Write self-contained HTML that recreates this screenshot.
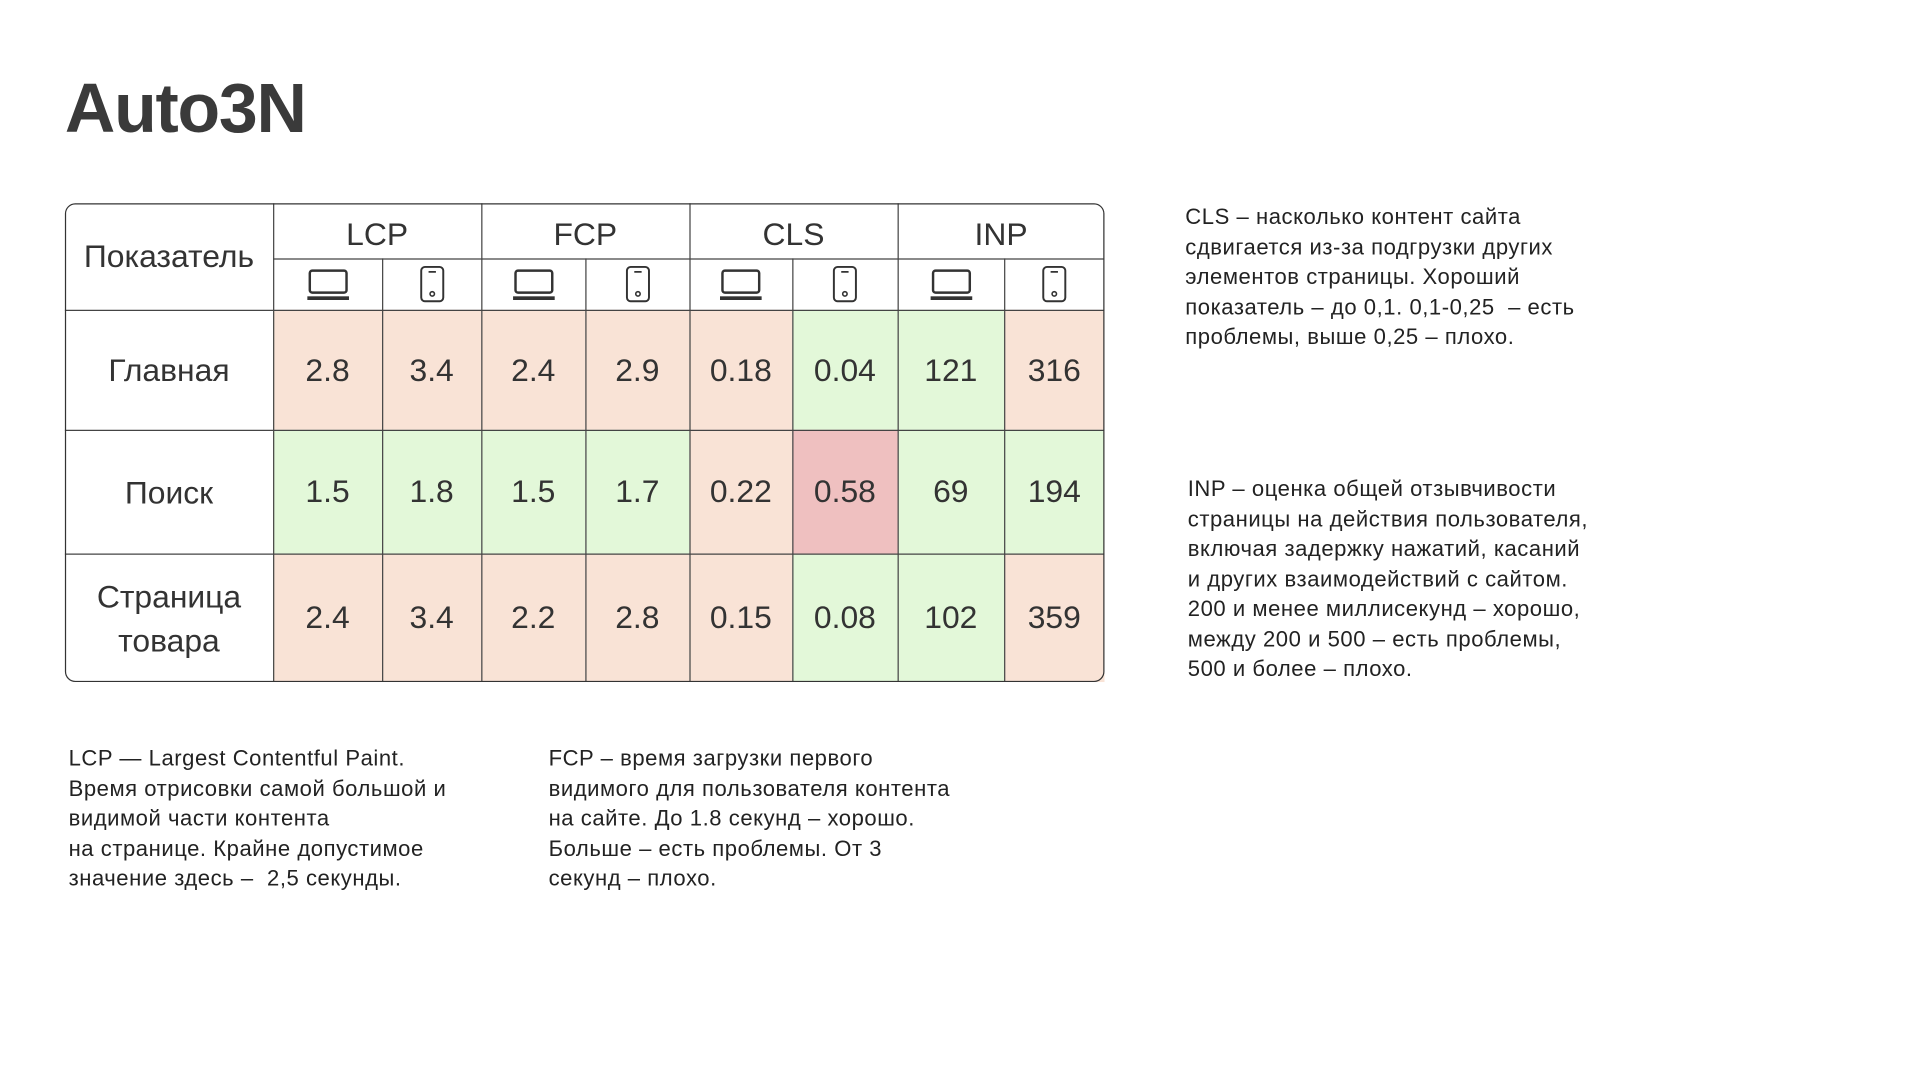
<!DOCTYPE html>
<html><head><meta charset="utf-8"><style>
html,body{margin:0;padding:0;background:#fff;overflow:hidden}
#w{width:1568px;height:882px;position:relative;transform:scale(1.22449);transform-origin:0 0;font-family:"Liberation Sans","DejaVu Sans",sans-serif;color:#2e2e2e}
h1{position:absolute;left:53px;top:56px;margin:0;font-size:57px;font-weight:bold;color:#3a3a3a;letter-spacing:-1px}
.c{position:absolute;display:flex;align-items:center;justify-content:center;font-size:26px;color:#333;box-sizing:border-box}
.p{background:#f9e3d6}.g{background:#e3f8d9}.r{background:#efc0c0}
.txt{position:absolute;font-size:18px;line-height:24.5px;color:#222;letter-spacing:0.45px}
</style></head><body><div id="w">
<h1>Auto3N</h1>
<div class="txt" style="left:968px;top:165px">CLS – насколько контент сайта<br>сдвигается из-за подгрузки других<br>элементов страницы. Хороший<br>показатель – до 0,1. 0,1-0,25 &nbsp;– есть<br>проблемы, выше 0,25 – плохо.</div>
<div class="txt" style="left:970px;top:387px">INP – оценка общей отзывчивости<br>страницы на действия пользователя,<br>включая задержку нажатий, касаний<br>и других взаимодействий с сайтом.<br>200 и менее миллисекунд – хорошо,<br>между 200 и 500 – есть проблемы,<br>500 и более – плохо.</div>
<div class="txt" style="left:56px;top:607px">LCP — Largest Contentful Paint.<br>Время отрисовки самой большой и<br>видимой части контента<br>на странице. Крайне допустимое<br>значение здесь – &nbsp;2,5 секунды.</div>
<div class="txt" style="left:448px;top:607px">FCP – время загрузки первого<br>видимого для пользователя контента<br>на сайте. До 1.8 секунд – хорошо.<br>Больше – есть проблемы. От 3<br>секунд – плохо.</div>
<script>
(function(){
var xs=[53,223,312,393,478,563,647,733,820,902];
var ys=[253,351,452,557];
var cls=[["p","p","p","p","p","g","g","p"],["g","g","g","g","p","r","g","g"],["p","p","p","p","p","g","g","p"]];
var vals=[["2.8","3.4","2.4","2.9","0.18","0.04","121","316"],["1.5","1.8","1.5","1.7","0.22","0.58","69","194"],["2.4","3.4","2.2","2.8","0.15","0.08","102","359"]];
var w=document.getElementById('w'),h='';
for(var r=0;r<3;r++)for(var c=0;c<8;c++){h+='<div class="c '+cls[r][c]+'" style="left:'+xs[c+1]+'px;top:'+ys[r]+'px;width:'+(xs[c+2]-xs[c+1])+'px;height:'+(ys[r+1]-ys[r])+'px">'+vals[r][c]+'</div>';}
var names=["Главная","Поиск","Страница<br>товара"];
for(var r=0;r<3;r++)h+='<div class="c" style="left:53px;top:'+ys[r]+'px;width:170px;height:'+(ys[r+1]-ys[r])+'px;text-align:center;line-height:36px">'+names[r]+'</div>';
h+='<div class="c" style="left:53px;top:166px;width:170px;height:87px">Показатель</div>';
var gr=["LCP","FCP","CLS","INP"];
for(var i=0;i<4;i++)h+='<div class="c" style="left:'+xs[1+2*i]+'px;top:166px;width:'+(xs[3+2*i]-xs[1+2*i])+'px;height:50px">'+gr[i]+'</div>';
var lap='<svg width="36" height="30" viewBox="0 0 36 30"><rect x="3" y="4" width="30" height="18" rx="2" fill="none" stroke="#333" stroke-width="2"/><rect x="1" y="25" width="34" height="3" fill="#333"/></svg>';
var ph='<svg width="24" height="32" viewBox="0 0 24 32"><rect x="3" y="2" width="18" height="28" rx="3" fill="none" stroke="#333" stroke-width="1.6"/><line x1="9" y1="6" x2="15" y2="6" stroke="#333" stroke-width="1.4"/><circle cx="12" cy="24" r="1.8" fill="none" stroke="#333" stroke-width="1.3"/></svg>';
for(var c=0;c<8;c++)h+='<div class="c" style="left:'+xs[c+1]+'px;top:211px;width:'+(xs[c+2]-xs[c+1])+'px;height:42px">'+(c%2?ph:lap)+'</div>';
var s='<svg style="position:absolute;left:0;top:0" width="1568" height="882">';
for(var c=1;c<9;c++){var yt=(c%2==1)?166:211;s+='<line x1="'+(xs[c]+0.5)+'" y1="'+yt+'" x2="'+(xs[c]+0.5)+'" y2="557" stroke="#444" stroke-width="1"/>';}
s+='<line x1="223" y1="211.5" x2="902" y2="211.5" stroke="#444"/>';
for(var r=0;r<3;r++)s+='<line x1="53" y1="'+(ys[r]+0.5)+'" x2="902" y2="'+(ys[r]+0.5)+'" stroke="#444"/>';
s+='<rect x="53.5" y="166.5" width="848" height="390" rx="8" fill="none" stroke="#333"/>';
s+='</svg>';
h+=s;
w.insertAdjacentHTML('beforeend',h);
})();
</script>
</div></body></html>
